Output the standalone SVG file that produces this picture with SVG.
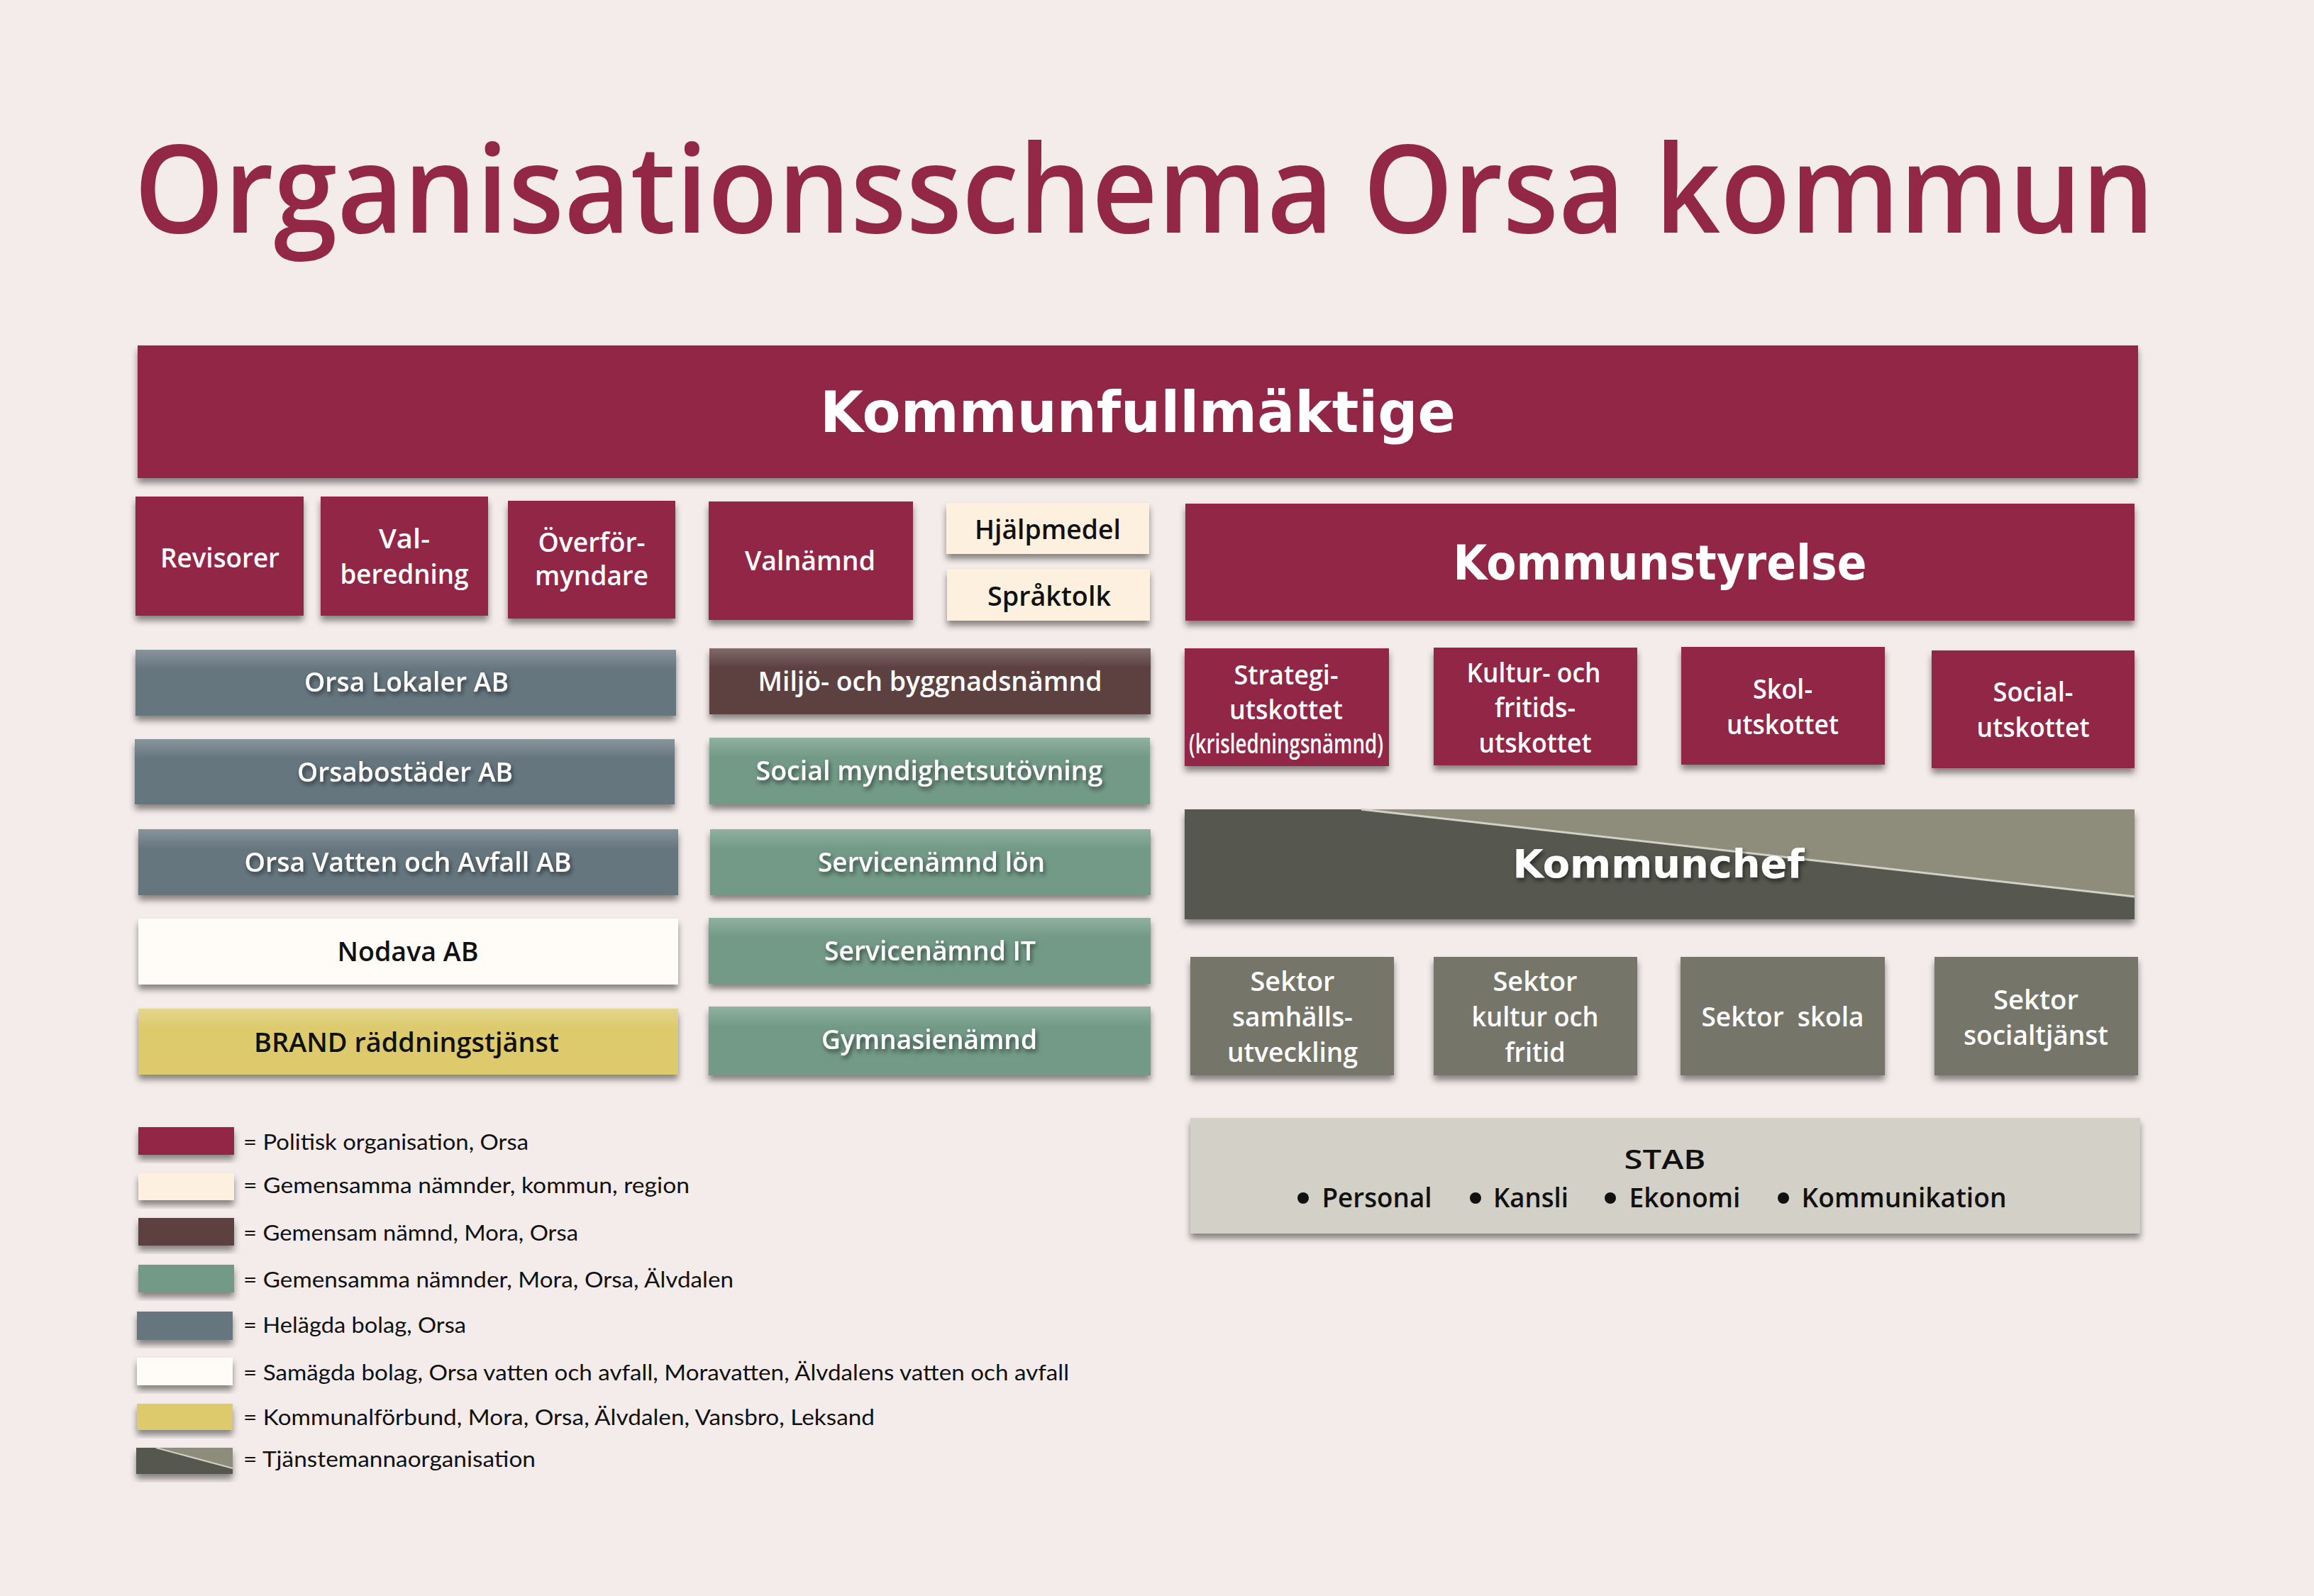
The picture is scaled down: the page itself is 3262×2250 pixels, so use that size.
<svg xmlns="http://www.w3.org/2000/svg" width="3262" height="2250" viewBox="0 0 3262 2250">
<defs>
<filter id="sh" x="-10%" y="-20%" width="120%" height="150%">
<feDropShadow dx="0" dy="7" stdDeviation="5" flood-color="#000" flood-opacity="0.45"/>
</filter>
<filter id="tsh" x="-10%" y="-30%" width="120%" height="170%">
<feDropShadow dx="2" dy="4" stdDeviation="3" flood-color="#000" flood-opacity="0.55"/>
</filter>
<linearGradient id="sheen" x1="0" y1="0" x2="0" y2="1">
<stop offset="0" stop-color="#fff" stop-opacity="0.22"/>
<stop offset="0.3" stop-color="#fff" stop-opacity="0"/>
</linearGradient>
<style>
.bg{fill:#F3ECEA}
.pol{fill:#922846}
.cream{fill:#FEF0DF}
.brown{fill:#5D3F41}
.green{fill:#729A86}
.blue{fill:#66767F}
.white{fill:#FFFCF7}
.yellow{fill:#DDCA6D}
.sektor{fill:#75756A}
.stab{fill:#D3D0C8}
.chefd{fill:#575850}
.chefl{fill:#8E8D7C}
.b{filter:url(#sh)}
.t{font-family:"Open Sans","Lato","Liberation Sans",sans-serif;font-weight:600;font-size:38px;text-anchor:middle;fill:#fff}
.k{fill:#111}
.ts{filter:url(#tsh)}
.h{font-family:"DejaVu Sans","Liberation Sans",sans-serif;font-weight:700;text-anchor:middle;fill:#fff}
.lg{font-family:"Lato","Open Sans","Liberation Sans",sans-serif;font-size:30px;fill:#111}
</style>
</defs>
<rect class="bg" x="0" y="0" width="3262" height="2250"/>

<g id="title">
<text x="189" y="328" font-family="'Open Sans','Lato','Liberation Sans',sans-serif" font-weight="600" font-size="172" fill="#922846" textLength="2848" lengthAdjust="spacingAndGlyphs">Organisationsschema Orsa kommun</text>
</g>

<g id="kommunfullmaktige">
<rect class="pol b" x="194" y="487" width="2820" height="187"/>
<text class="h" x="1604" y="609" font-size="81" textLength="896" lengthAdjust="spacingAndGlyphs">Kommunfullmäktige</text>
</g>

<g id="revisorer">
<rect class="pol b" x="191" y="700" width="237" height="168"/>
<text class="t" x="310" y="800" textLength="168" lengthAdjust="spacingAndGlyphs">Revisorer</text>
</g>
<g id="valberedning">
<rect class="pol b" x="452" y="700" width="236" height="168"/>
<text class="t" x="570" y="773" textLength="72" lengthAdjust="spacingAndGlyphs">Val-</text>
<text class="t" x="570" y="823" textLength="181" lengthAdjust="spacingAndGlyphs">beredning</text>
</g>
<g id="overformyndare">
<rect class="pol b" x="716" y="706" width="236" height="166"/>
<text class="t" x="834" y="778" textLength="151" lengthAdjust="spacingAndGlyphs">Överför-</text>
<text class="t" x="834" y="825" textLength="160" lengthAdjust="spacingAndGlyphs">myndare</text>
</g>
<g id="valnamnd">
<rect class="pol b" x="999" y="707" width="288" height="167"/>
<text class="t" x="1142" y="804" textLength="184" lengthAdjust="spacingAndGlyphs">Valnämnd</text>
</g>
<g id="hjalpmedel">
<rect class="cream b" x="1334" y="709" width="286" height="72"/>
<text class="t k" x="1477" y="760" textLength="206" lengthAdjust="spacingAndGlyphs">Hjälpmedel</text>
</g>
<g id="spraktolk">
<rect class="cream b" x="1335" y="802" width="286" height="73"/>
<text class="t k" x="1479" y="854" textLength="174" lengthAdjust="spacingAndGlyphs">Språktolk</text>
</g>

<g id="kommunstyrelse">
<rect class="pol b" x="1671" y="710" width="1338" height="165"/>
<text class="h" x="2340" y="817" font-size="67" textLength="583" lengthAdjust="spacingAndGlyphs">Kommunstyrelse</text>
</g>

<g id="orsa-lokaler">
<rect class="blue b" x="191" y="916" width="762" height="93"/>
<rect fill="url(#sheen)" x="191" y="916" width="762" height="93"/>
<text class="t ts" x="573" y="975" textLength="288" lengthAdjust="spacingAndGlyphs">Orsa Lokaler AB</text>
</g>
<g id="orsabostader">
<rect class="blue b" x="190" y="1042" width="761" height="92"/>
<rect fill="url(#sheen)" x="190" y="1042" width="761" height="92"/>
<text class="t ts" x="571" y="1102" textLength="304" lengthAdjust="spacingAndGlyphs">Orsabostäder AB</text>
</g>
<g id="orsa-vatten">
<rect class="blue b" x="195" y="1169" width="761" height="93"/>
<rect fill="url(#sheen)" x="195" y="1169" width="761" height="93"/>
<text class="t ts" x="575" y="1229" textLength="461" lengthAdjust="spacingAndGlyphs">Orsa Vatten och Avfall AB</text>
</g>
<g id="nodava">
<rect class="white b" x="195" y="1295" width="761" height="93"/>
<text class="t k" x="575" y="1355" textLength="199" lengthAdjust="spacingAndGlyphs">Nodava AB</text>
</g>
<g id="brand">
<rect class="yellow b" x="195" y="1422" width="761" height="93"/>
<rect fill="url(#sheen)" x="195" y="1422" width="761" height="93"/>
<text class="t k" x="573" y="1483" textLength="430" lengthAdjust="spacingAndGlyphs">BRAND räddningstjänst</text>
</g>

<g id="miljo">
<rect class="brown b" x="1000" y="914" width="622" height="93"/>
<rect fill="url(#sheen)" x="1000" y="914" width="622" height="93"/>
<text class="t" x="1311" y="974" textLength="485" lengthAdjust="spacingAndGlyphs">Miljö- och byggnadsnämnd</text>
</g>
<g id="social-myndighet">
<rect class="green b" x="1000" y="1040" width="621" height="94"/>
<rect fill="url(#sheen)" x="1000" y="1040" width="621" height="94"/>
<text class="t ts" x="1310" y="1100" textLength="489" lengthAdjust="spacingAndGlyphs">Social myndighetsutövning</text>
</g>
<g id="servicenamnd-lon">
<rect class="green b" x="1001" y="1169" width="621" height="93"/>
<rect fill="url(#sheen)" x="1001" y="1169" width="621" height="93"/>
<text class="t ts" x="1313" y="1229" textLength="320" lengthAdjust="spacingAndGlyphs">Servicenämnd lön</text>
</g>
<g id="servicenamnd-it">
<rect class="green b" x="999" y="1294" width="623" height="93"/>
<rect fill="url(#sheen)" x="999" y="1294" width="623" height="93"/>
<text class="t ts" x="1311" y="1354" textLength="298" lengthAdjust="spacingAndGlyphs">Servicenämnd IT</text>
</g>
<g id="gymnasienamnd">
<rect class="green b" x="999" y="1419" width="623" height="97"/>
<rect fill="url(#sheen)" x="999" y="1419" width="623" height="97"/>
<text class="t ts" x="1310" y="1479" textLength="304" lengthAdjust="spacingAndGlyphs">Gymnasienämnd</text>
</g>

<g id="strategiutskottet">
<rect class="pol b" x="1670" y="914" width="288" height="166"/>
<text class="t" x="1813" y="965" textLength="147" lengthAdjust="spacingAndGlyphs">Strategi-</text>
<text class="t" x="1813" y="1014" textLength="160" lengthAdjust="spacingAndGlyphs">utskottet</text>
<text class="t" x="1813" y="1062" font-size="23" font-weight="400" textLength="274" lengthAdjust="spacingAndGlyphs">(krisledningsnämnd)</text>
</g>
<g id="kulturutskottet">
<rect class="pol b" x="2021" y="913" width="287" height="166"/>
<text class="t" x="2162" y="962" textLength="189" lengthAdjust="spacingAndGlyphs">Kultur- och</text>
<text class="t" x="2164" y="1011" textLength="114" lengthAdjust="spacingAndGlyphs">fritids-</text>
<text class="t" x="2164" y="1061" textLength="159" lengthAdjust="spacingAndGlyphs">utskottet</text>
</g>
<g id="skolutskottet">
<rect class="pol b" x="2370" y="912" width="287" height="166"/>
<text class="t" x="2513" y="985" textLength="84" lengthAdjust="spacingAndGlyphs">Skol-</text>
<text class="t" x="2513" y="1035" textLength="158" lengthAdjust="spacingAndGlyphs">utskottet</text>
</g>
<g id="socialutskottet">
<rect class="pol b" x="2723" y="917" width="286" height="166"/>
<text class="t" x="2866" y="989" textLength="113" lengthAdjust="spacingAndGlyphs">Social-</text>
<text class="t" x="2866" y="1039" textLength="159" lengthAdjust="spacingAndGlyphs">utskottet</text>
</g>

<g id="kommunchef">
<rect class="chefd b" x="1670" y="1141" width="1339" height="155"/>
<polygon class="chefl" points="1919,1141 3009,1141 3009,1264"/>
<line x1="1919" y1="1141" x2="3009" y2="1264" stroke="#D2D1C6" stroke-width="3"/>
<text class="h ts" x="2338" y="1237" font-size="56" textLength="411" lengthAdjust="spacingAndGlyphs">Kommunchef</text>
</g>

<g id="sektor-samhallsutveckling">
<rect class="sektor b" x="1678" y="1349" width="287" height="167"/>
<text class="t" x="1822" y="1397" textLength="119" lengthAdjust="spacingAndGlyphs">Sektor</text>
<text class="t" x="1822" y="1447" textLength="170" lengthAdjust="spacingAndGlyphs">samhälls-</text>
<text class="t" x="1822" y="1497" textLength="184" lengthAdjust="spacingAndGlyphs">utveckling</text>
</g>
<g id="sektor-kultur">
<rect class="sektor b" x="2021" y="1349" width="287" height="167"/>
<text class="t" x="2164" y="1397" textLength="119" lengthAdjust="spacingAndGlyphs">Sektor</text>
<text class="t" x="2164" y="1447" textLength="179" lengthAdjust="spacingAndGlyphs">kultur och</text>
<text class="t" x="2164" y="1497" textLength="85" lengthAdjust="spacingAndGlyphs">fritid</text>
</g>
<g id="sektor-skola">
<rect class="sektor b" x="2369" y="1349" width="288" height="167"/>
<text class="t" x="2513" y="1447" textLength="229" lengthAdjust="spacingAndGlyphs" xml:space="preserve">Sektor  skola</text>
</g>
<g id="sektor-socialtjanst">
<rect class="sektor b" x="2727" y="1349" width="287" height="167"/>
<text class="t" x="2870" y="1423" textLength="120" lengthAdjust="spacingAndGlyphs">Sektor</text>
<text class="t" x="2870" y="1473" textLength="204" lengthAdjust="spacingAndGlyphs">socialtjänst</text>
</g>

<g id="stab">
<rect class="stab b" x="1678" y="1576" width="1339" height="163"/>
<text class="t k" x="2347" y="1648" textLength="115" lengthAdjust="spacingAndGlyphs">STAB</text>
<circle cx="1837" cy="1689" r="8" fill="#111"/>
<text class="t k" x="1941" y="1702" textLength="155" lengthAdjust="spacingAndGlyphs">Personal</text>
<circle cx="2080" cy="1689" r="8" fill="#111"/>
<text class="t k" x="2158" y="1702" textLength="106" lengthAdjust="spacingAndGlyphs">Kansli</text>
<circle cx="2270" cy="1689" r="8" fill="#111"/>
<text class="t k" x="2375" y="1702" textLength="157" lengthAdjust="spacingAndGlyphs">Ekonomi</text>
<circle cx="2514" cy="1689" r="8" fill="#111"/>
<text class="t k" x="2684" y="1702" textLength="289" lengthAdjust="spacingAndGlyphs">Kommunikation</text>
</g>

<g id="legend">
<rect class="pol b" x="195" y="1589" width="135" height="39"/>
<text class="lg" x="343" y="1621" textLength="402" lengthAdjust="spacingAndGlyphs">= Politisk organisation, Orsa</text>
<rect class="cream b" x="195" y="1654" width="135" height="38"/>
<text class="lg" x="343" y="1682" textLength="629" lengthAdjust="spacingAndGlyphs">= Gemensamma nämnder, kommun, region</text>
<rect class="brown b" x="195" y="1717" width="135" height="39"/>
<text class="lg" x="343" y="1749" textLength="472" lengthAdjust="spacingAndGlyphs">= Gemensam nämnd, Mora, Orsa</text>
<rect class="green b" x="195" y="1783" width="135" height="39"/>
<text class="lg" x="343" y="1815" textLength="691" lengthAdjust="spacingAndGlyphs">= Gemensamma nämnder, Mora, Orsa, Älvdalen</text>
<rect class="blue b" x="193" y="1849" width="135" height="40"/>
<text class="lg" x="343" y="1879" textLength="314" lengthAdjust="spacingAndGlyphs">= Helägda bolag, Orsa</text>
<rect class="white b" x="193" y="1914" width="135" height="39"/>
<text class="lg" x="343" y="1946" textLength="1164" lengthAdjust="spacingAndGlyphs">= Samägda bolag, Orsa vatten och avfall, Moravatten, Älvdalens vatten och avfall</text>
<rect class="yellow b" x="193" y="1979" width="135" height="37"/>
<text class="lg" x="343" y="2009" textLength="890" lengthAdjust="spacingAndGlyphs">= Kommunalförbund, Mora, Orsa, Älvdalen, Vansbro, Leksand</text>
<rect class="chefd b" x="192" y="2041" width="136" height="37"/>
<polygon class="chefl" points="220,2041 328,2041 328,2070"/>
<line x1="220" y1="2041" x2="328" y2="2070" stroke="#D2D1C6" stroke-width="2"/>
<text class="lg" x="343" y="2068" textLength="412" lengthAdjust="spacingAndGlyphs">= Tjänstemannaorganisation</text>
</g>
</svg>
